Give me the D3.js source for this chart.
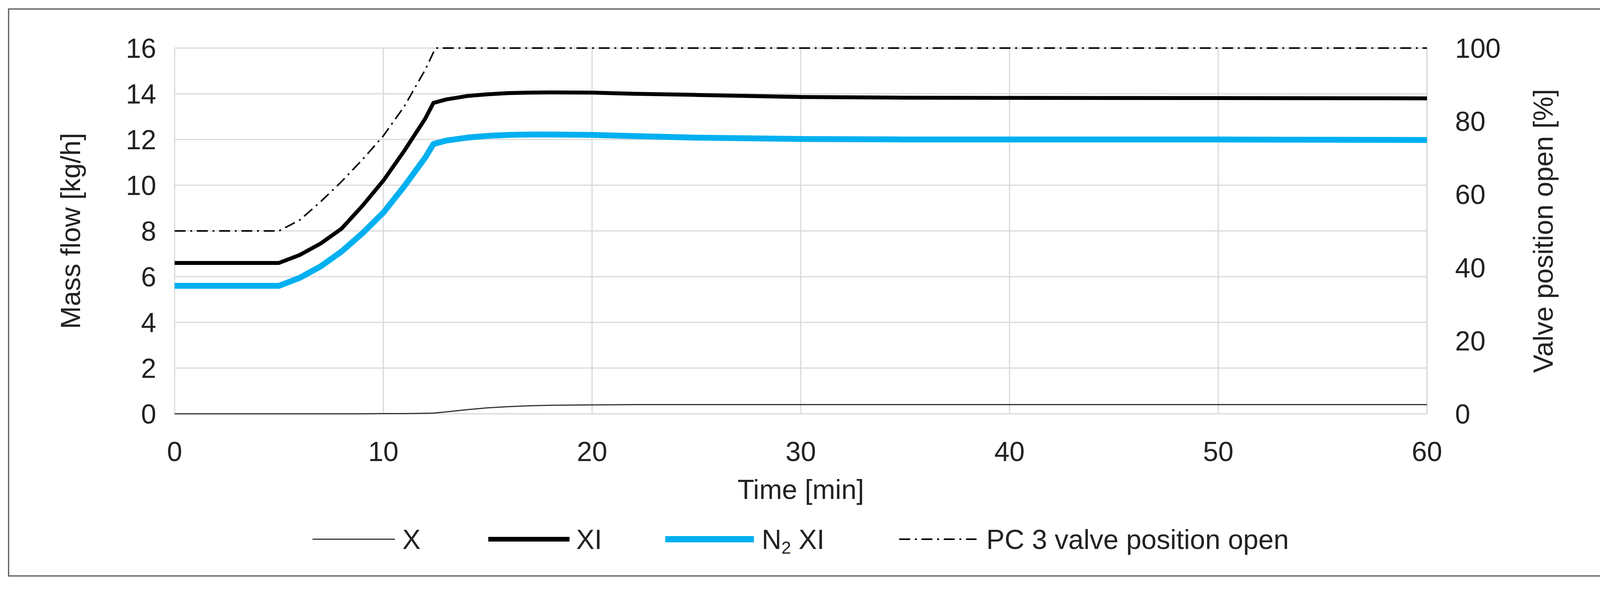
<!DOCTYPE html><html><head><meta charset="utf-8"><script src="https://cdn.jsdelivr.net/npm/d3@7"></script>
<style>body{margin:0;background:#fff}text{font-family:"Liberation Sans",Arial,sans-serif;fill:#222}</style></head><body>
<svg id="c" width="4172" height="1510"></svg>
<script>
const timeX=[0,5,6,7,8,9,10,11,12,12.4,13,14,15,16,17,18,20,22,25,30,35,40,50,60];
const seriesX=[0,0,0,0,0,0,0.01,0.01,0.02,0.03,0.08,0.18,0.26,0.31,0.35,0.37,0.39,0.4,0.4,0.4,0.4,0.4,0.4,0.4];
const seriesXI=[6.6,6.6,6.95,7.45,8.1,9.1,10.2,11.5,12.9,13.6,13.75,13.9,13.98,14.03,14.05,14.06,14.05,14.0,13.95,13.86,13.83,13.82,13.81,13.8];
const seriesN2=[5.6,5.6,5.95,6.45,7.1,7.9,8.8,9.95,11.2,11.8,11.95,12.08,12.16,12.2,12.22,12.22,12.2,12.15,12.08,12.02,12.0,12.0,12.0,11.98];
const valveT=[0,5,6,7,8,9,10,11,12,12.5,60];
const valveV=[50,50,53,58,63.5,69.5,76,84,94,100,100];
const xTicks=[0,10,20,30,40,50,60];
const yTicks=[0,2,4,6,8,10,12,14,16];
const y2Ticks=[0,20,40,60,80,100];
const svg=d3.select("#c");
svg.append("rect").attr("x",22).attr("y",23).attr("width",4116).attr("height",1451).attr("fill","#fff").attr("stroke","#555").attr("stroke-width",3);
const L=447,R=3653,T=123,B=1059;
const x=d3.scaleLinear().domain([0,60]).range([L,R]);
const y=d3.scaleLinear().domain([0,16]).range([B,T]);
const y2=d3.scaleLinear().domain([0,100]).range([B,T]);
const g=svg.append("g");
g.selectAll(".h").data(yTicks).join("line").attr("x1",L).attr("x2",R).attr("y1",d=>y(d)).attr("y2",d=>y(d)).attr("stroke","#d9d9d9").attr("stroke-width",3);
g.selectAll(".v").data(xTicks).join("line").attr("y1",T).attr("y2",B).attr("x1",d=>x(d)).attr("x2",d=>x(d)).attr("stroke","#d9d9d9").attr("stroke-width",3);
const fs=70;
g.selectAll(".xl").data(xTicks).join("text").attr("x",d=>x(d)).attr("y",1180).attr("text-anchor","middle").attr("font-size",fs).text(d=>d);
g.selectAll(".yl").data(yTicks).join("text").attr("x",400).attr("y",d=>y(d)+25).attr("text-anchor","end").attr("font-size",fs).text(d=>d);
g.selectAll(".y2l").data(y2Ticks).join("text").attr("x",3725).attr("y",d=>y2(d)+25).attr("text-anchor","start").attr("font-size",fs).text(d=>d);
g.append("line").attr("x1",R).attr("x2",R).attr("y1",T).attr("y2",B).attr("stroke","#d9d9d9").attr("stroke-width",3);
g.append("text").attr("x",(L+R)/2).attr("y",1277).attr("text-anchor","middle").attr("font-size",fs).text("Time [min]");
g.append("text").attr("transform",`translate(205,${(T+B)/2}) rotate(-90)`).attr("text-anchor","middle").attr("font-size",fs).text("Mass flow [kg/h]");
g.append("text").attr("transform",`translate(3975,${(T+B)/2}) rotate(-90)`).attr("text-anchor","middle").attr("font-size",fs).text("Valve position open [%]");
const line=(ys,sc,ts)=>d3.line().x((d,i)=>x(ts[i])).y(d=>sc(d)).curve(d3.curveLinear)(ys);
g.append("path").attr("d",line(seriesX,y,timeX)).attr("fill","none").attr("stroke","#333").attr("stroke-width",3);
g.append("path").attr("d",line(seriesN2,y,timeX)).attr("fill","none").attr("stroke","#00b0f0").attr("stroke-width",15).attr("stroke-linejoin","round");
g.append("path").attr("d",line(seriesXI,y,timeX)).attr("fill","none").attr("stroke","#000").attr("stroke-width",10).attr("stroke-linejoin","round");
g.append("path").attr("d",line(valveV,y2,valveT)).attr("fill","none").attr("stroke","#000").attr("stroke-width",4).attr("stroke-dasharray","28,12,5,12");
const leg=[{n:"X",x1:800,x2:1011,tx:1030,c:"#333",w:3,da:null},{n:"XI",x1:1250,x2:1458,tx:1475,c:"#000",w:12,da:null},{n:"N2",x1:1703,x2:1930,tx:1950,c:"#00b0f0",w:16,da:null},{n:"PC 3 valve position open",x1:2302,x2:2500,tx:2525,c:"#000",w:4,da:"28,12,5,12"}];
const ly=1380;
leg.forEach(l=>{
 g.append("line").attr("x1",l.x1).attr("x2",l.x2).attr("y1",ly).attr("y2",ly).attr("stroke",l.c).attr("stroke-width",l.w).attr("stroke-dasharray",l.da);
 const t=g.append("text").attr("x",l.tx).attr("y",ly+25).attr("font-size",fs);
 if(l.n==="N2"){t.append("tspan").text("N");t.append("tspan").attr("font-size",44).attr("dy",12).text("2");t.append("tspan").attr("dy",-12).text(" XI");}
 else t.text(l.n);
});
</script></body></html>
